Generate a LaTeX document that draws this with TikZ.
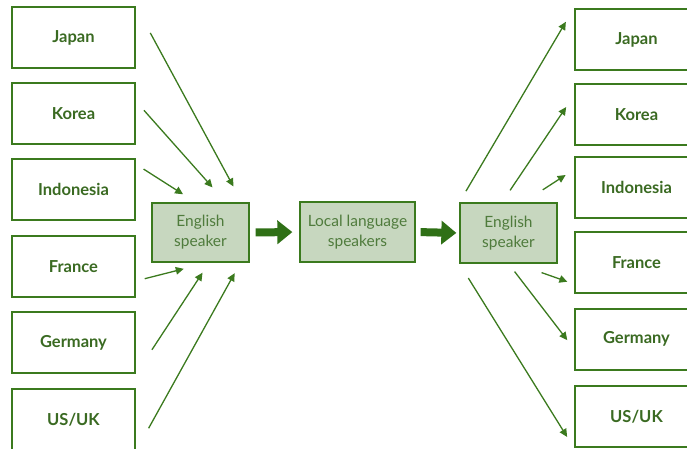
\documentclass[tikz,border=0pt]{standalone}
\usepackage{fontspec}
\setmainfont{Lato}
\usetikzlibrary{arrows.meta}
\definecolor{boxgreen}{HTML}{3B7A1E}
\definecolor{arrgreen}{HTML}{2F7016}
\definecolor{txtgreen}{HTML}{3A6A22}
\definecolor{midgreen}{HTML}{4F7B3C}
\definecolor{boxfill}{HTML}{C7D7BF}

\begin{document}
\begin{tikzpicture}[x=1pt,y=-1pt,
 country/.style={draw=boxgreen,line width=2pt,minimum width=123pt,minimum height=61pt,text=txtgreen,font=\fontsize{16.5}{18}\selectfont\bfseries},
 speaker/.style={draw=boxgreen,line width=1.3pt,fill=boxfill,minimum height=60pt,text=midgreen,align=center,font=\fontsize{15.5}{20}\selectfont},
 arr/.style={draw=boxgreen,line width=1.3pt,-{Triangle[length=8pt,width=7.5pt]}},
 bigarr/.style={draw=arrgreen,line width=8pt,-{Triangle[length=15pt,width=23pt]}}]
 \useasboundingbox (0,0) rectangle (687,449);
 \node[country] (jpL) at (73.5,38) {Japan};
 \node[country] (krL) at (73.5,113.5) {Korea};
 \node[country] (inL) at (73.5,189.5) {Indonesia};
 \node[country] (frL) at (73.5,266.5) {France};
 \node[country] (grL) at (73.5,342.5) {Germany};
 \node[country] (usL) at (73.5,419.5) {US/UK};
 \node[country] (jpR) at (636.5,39.5) {Japan};
 \node[country] (krR) at (636.5,114.5) {Korea};
 \node[country] (inR) at (636.5,187.5) {Indonesia};
 \node[country] (frR) at (636.5,262.5) {France};
 \node[country] (grR) at (636.5,339) {Germany};
 \node[country] (usR) at (636.5,416.5) {US/UK};
 \node[speaker,minimum width=97pt,minimum height=59pt] (engL) at (200.5,232.5) {English\\speaker};
 \node[speaker,minimum width=115pt] (lang) at (357.5,232) {Local language\\speakers};
 \node[speaker,minimum width=97pt] (engR) at (508.5,233) {English\\speaker};
 \draw[arr,shorten <=30pt,shorten >=18pt] (jpL.north east) -- (engL.36);
 \draw[arr,shorten <=12pt,shorten >=20pt] (krL.11) -- (engL.50);
 \draw[arr,shorten <=9pt,shorten >=15pt] (inL.22) -- (engL.99);
 \draw[arr,shorten <=9pt,shorten >=25pt] (frL.-13) -- (engL.-76);
 \draw[arr,shorten <=29pt,shorten >=12pt] (grL.south east) -- (engL.-74);
 \draw[arr,shorten <=26pt,shorten >=12pt] (usL.south east) -- (engL.-37);
 \draw[bigarr,shorten <=6pt,shorten >=7pt] (engL.east) -- (lang.west);
 \draw[bigarr,shorten <=5pt,shorten >=3pt] (lang.east) -- (engR.west);
 \draw[arr,shorten <=13pt,shorten >=16pt] (engR.north west) -- (jpR.north west);
 \draw[arr,shorten <=14.5pt,shorten >=14pt] (engR.102) -- (krR.163);
 \draw[arr,shorten <=23pt,shorten >=10pt] (engR.64) -- (inR.164);
 \draw[arr,shorten <=27pt,shorten >=7pt] (engR.-76) -- (frR.199);
 \draw[arr,shorten <=10pt,shorten >=11pt] (engR.south) -- (grR.189);
 \draw[arr,shorten <=17pt,shorten >=13pt] (engR.south west) -- (usR.south west);
\end{tikzpicture}
\end{document}
